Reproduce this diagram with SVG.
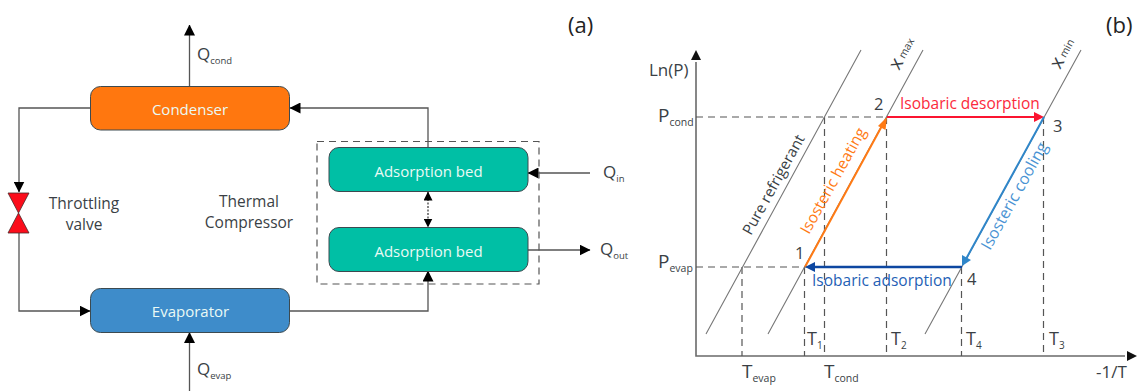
<svg xmlns="http://www.w3.org/2000/svg" width="1137" height="391" viewBox="0 0 1137 391">
<style>
text{font-family:"Open Sans","Noto Sans",sans-serif;fill:#3a3f45}
.w{fill:#eafaf5;font-size:15px;text-anchor:middle}
.l{font-size:15.500px;text-anchor:middle}
.q{font-size:17px}
.q tspan{font-size:9.500px}
.box{stroke:#3c4a50;stroke-width:1}
.c{fill:none;stroke:#555;stroke-width:1.3}
.d{fill:none;stroke:#555;stroke-width:1.2;stroke-dasharray:7 5}
.t{fill:none;stroke:#777;stroke-width:1.1}
.ax{fill:none;stroke:#6a6a6a;stroke-width:1.6}
</style>
<defs>
<marker id="a" viewBox="0 0 11 11" markerUnits="userSpaceOnUse" markerWidth="11" markerHeight="11" refX="10.5" refY="5.5" orient="auto"><path d="M0 0L11 5.500L0 11Z" fill="#000"/></marker>
<marker id="as" viewBox="0 0 9 9" markerUnits="userSpaceOnUse" markerWidth="9" markerHeight="9" refX="8.500" refY="4.500" orient="auto-start-reverse"><path d="M0 0L9 4.500L0 9Z" fill="#000"/></marker>
</defs>
<g id="connectors">
<path class="c" d="M189.500 86V25" marker-end="url(#a)"/>
<path class="c" d="M90 108H19V192" marker-end="url(#a)"/>
<path class="c" d="M19 233V311H90" marker-end="url(#a)"/>
<path class="c" d="M428 147V108H290" marker-end="url(#a)"/>
<path class="c" d="M290 311H428V271" marker-end="url(#a)"/>
<path class="c" d="M189.500 391V332.500" marker-end="url(#a)"/>
<path class="c" d="M590 173H528" marker-end="url(#a)"/>
<path class="c" d="M528 250H590" marker-end="url(#a)"/>
<path fill="none" stroke="#333" stroke-width="1.2" stroke-dasharray="2 1.500" d="M428 192V227" marker-start="url(#as)" marker-end="url(#as)"/>
</g>
<g id="condenser"><rect class="box" x="90.500" y="86.500" width="199" height="43.500" rx="10" fill="#ff770f"/><text class="w" x="190" y="115">Condenser</text></g>
<g id="evaporator"><rect class="box" x="90.500" y="288.500" width="199" height="44" rx="10" fill="#3e8cca"/><text class="w" x="190.500" y="317">Evaporator</text></g>
<g id="bed1"><rect class="box" x="329" y="147.500" width="199" height="44" rx="10" fill="#00bfa5"/><text class="w" x="428.500" y="177">Adsorption bed</text></g>
<g id="bed2"><rect class="box" x="329" y="227.500" width="199" height="44" rx="10" fill="#00bfa5"/><text class="w" x="428.500" y="257">Adsorption bed</text></g>
<rect id="compressor-box" class="d" x="317" y="141.500" width="222" height="142.500"/>
<g id="valve"><path d="M8 193H29L8 233H29Z" fill="#fb0d1b" stroke="#4a2a2a" stroke-width=".8"/></g>
<g id="labels-a">
<text class="q" x="197" y="60">Q<tspan dy="4">cond</tspan></text>
<text class="q" x="197" y="375">Q<tspan dy="4">evap</tspan></text>
<text class="q" x="603" y="178">Q<tspan dy="4">in</tspan></text>
<text class="q" x="600" y="255">Q<tspan dy="4">out</tspan></text>
<text class="l" x="84" y="209">Throttling</text>
<text class="l" x="84" y="230">valve</text>
<text class="l" x="249" y="207">Thermal</text>
<text class="l" x="249" y="228">Compressor</text>
<text x="568" y="33" style="font-size:22px;fill:#222">(a)</text>
<text x="1106" y="33" style="font-size:22px;fill:#222">(b)</text>
</g>
<g id="chart">
<path class="ax" d="M696 62V356H1125"/>
<path d="M696 50L701 60H691Z" fill="#111"/>
<path d="M1137 356L1127 351V361Z" fill="#111"/>
<path class="d" d="M696 117H1043M696 267H961M742 267V356M824.500 117V356M804.500 267V356M886.500 117V356M961.500 267V356M1043.500 117V356"/>
<path class="t" d="M861 50L706 334M923 50L768 334M1081 50L925 334"/>
<path fill="none" stroke="#ff7a14" stroke-width="2" d="M805 267L883 124"/>
<path d="M887 117L885.500 130L878 126Z" fill="#ff7a14"/>
<path fill="none" stroke="#fb1430" stroke-width="2" d="M887 117H1034"/>
<path d="M1044 117L1034 112V122Z" fill="#fb1430"/>
<path fill="none" stroke="#2f86c9" stroke-width="2" d="M1044 117L966 259"/>
<path d="M962 266L962 255L971 260Z" fill="#2f86c9"/>
<path fill="none" stroke="#0d47a1" stroke-width="2.400" d="M962 267H815"/>
<path d="M805 267L815 262V272Z" fill="#0d47a1"/>
</g>
<g id="labels-b">
<text x="649" y="76" style="font-size:17px">Ln(P)</text>
<text class="q" x="658" y="122" style="font-size:19px">P<tspan dy="4" style="font-size:10.500px">cond</tspan></text>
<text class="q" x="658" y="268" style="font-size:19px">P<tspan dy="4" style="font-size:10.500px">evap</tspan></text>
<text class="q" x="742" y="378" style="font-size:19px">T<tspan dy="4" style="font-size:10.500px">evap</tspan></text>
<text class="q" x="824" y="378" style="font-size:19px">T<tspan dy="4" style="font-size:10.500px">cond</tspan></text>
<text class="q" x="807" y="345" style="font-size:18px">T<tspan dy="4" style="font-size:10px">1</tspan></text>
<text class="q" x="891" y="345" style="font-size:18px">T<tspan dy="4" style="font-size:10px">2</tspan></text>
<text class="q" x="966" y="345" style="font-size:18px">T<tspan dy="4" style="font-size:10px">4</tspan></text>
<text class="q" x="1049" y="345" style="font-size:18px">T<tspan dy="4" style="font-size:10px">3</tspan></text>
<text x="1096" y="378" style="font-size:17px">-1/T</text>
<text x="874" y="110" style="font-size:16.500px">2</text>
<text x="1053" y="132" style="font-size:16.500px">3</text>
<text x="795" y="259" style="font-size:16.500px">1</text>
<text x="967" y="285" style="font-size:16.500px">4</text>
<text x="900" y="109" style="font-size:15.500px;fill:#fb2a3c">Isobaric desorption</text>
<text x="812" y="286" style="font-size:15.500px;fill:#1f5fb5">Isobaric adsorption</text>
<text transform="translate(751 236) rotate(-61)" style="font-size:15px">Pure refrigerant</text>
<text transform="translate(809 235) rotate(-61)" style="font-size:15.500px;fill:#ff7a14">Isosteric heating</text>
<text transform="translate(990 251) rotate(-61)" style="font-size:16px;fill:#4a93d3">Isosteric cooling</text>
<text transform="translate(899 71) rotate(-61)" style="font-size:19px">x<tspan dy="-1" dx="3" style="font-size:10.500px">max</tspan></text>
<text transform="translate(1060 70) rotate(-61)" style="font-size:19px">x<tspan dy="-1" dx="3" style="font-size:10.500px">min</tspan></text>
</g>
</svg>
